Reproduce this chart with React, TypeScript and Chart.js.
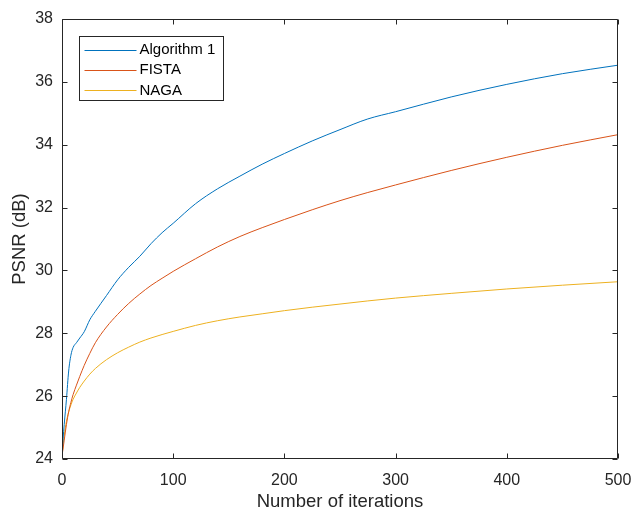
import React, { useEffect, useRef } from "react";
import { Chart, registerables } from "chart.js";

Chart.register(...registerables);

const iterations = [0, 2, 4, 6, 8, 10, 13, 16, 20, 25, 30, 40, 50, 60, 70, 80, 90, 100, 120, 140, 160, 180, 200, 225, 250, 275, 300, 350, 400, 450, 500];

const algorithm1 = [24.2, 25.1, 25.9, 26.8, 27.3, 27.55, 27.7, 27.85, 28.05, 28.43, 28.7, 29.2, 29.7, 30.1, 30.45, 30.85, 31.2, 31.5, 32.12, 32.6, 33.0, 33.38, 33.72, 34.12, 34.48, 34.82, 35.05, 35.52, 35.92, 36.26, 36.53];
const fista = [24.1, 24.6, 25.1, 25.5, 25.8, 26.05, 26.35, 26.63, 26.98, 27.36, 27.7, 28.2, 28.6, 28.95, 29.25, 29.52, 29.75, 29.97, 30.37, 30.75, 31.08, 31.36, 31.62, 31.93, 32.22, 32.48, 32.72, 33.18, 33.6, 33.98, 34.32];
const naga = [24.1, 24.75, 25.2, 25.5, 25.72, 25.9, 26.1, 26.28, 26.48, 26.7, 26.88, 27.16, 27.38, 27.56, 27.72, 27.85, 27.96, 28.06, 28.25, 28.4, 28.52, 28.62, 28.72, 28.83, 28.93, 29.03, 29.12, 29.27, 29.41, 29.53, 29.64];

const seriesNames = ["Algorithm 1", "FISTA", "NAGA"];
const seriesColors = ["#0072BD", "#D95319", "#EDB120"];

const xTicks = [0, 100, 200, 300, 400, 500];
const yTicks = [24, 26, 28, 30, 32, 34, 36, 38];

const FONT = "'Liberation Sans', Arial, Helvetica, sans-serif";
const AXIS_COLOR = "#262626";

const framePlugin = {
  id: "matlabFrame",
  afterDatasetsDraw(chart: any) {
    const { ctx, chartArea } = chart;
    const { left, right, top, bottom } = chartArea;
    const xs = chart.scales.x;
    const ys = chart.scales.y;
    const L = Math.round(left) + 0.5;
    const R = Math.round(right) - 0.5;
    const T = Math.round(top) + 0.5;
    const B = Math.round(bottom) - 0.5;
    ctx.save();
    ctx.strokeStyle = AXIS_COLOR;
    ctx.lineWidth = 1;
    ctx.beginPath();
    ctx.rect(L, T, R - L, B - T);
    ctx.stroke();
    const tl = 5;
    ctx.beginPath();
    xTicks.forEach((v) => {
      const px = Math.round(xs.getPixelForValue(v)) + 0.5;
      ctx.moveTo(px, B);
      ctx.lineTo(px, B - tl);
      ctx.moveTo(px, T);
      ctx.lineTo(px, T + tl);
    });
    yTicks.forEach((v) => {
      const py = Math.round(ys.getPixelForValue(v)) + 0.5;
      ctx.moveTo(L, py);
      ctx.lineTo(L + tl, py);
      ctx.moveTo(R, py);
      ctx.lineTo(R - tl, py);
    });
    ctx.stroke();
    ctx.restore();
  },
  afterDraw(chart: any) {
    const { ctx, chartArea } = chart;
    const bx = Math.round(chartArea.left + 17) + 0.5;
    const by = Math.round(chartArea.top + 17) + 0.5;
    const bw = 144;
    const bh = 64;
    ctx.save();
    ctx.fillStyle = "#ffffff";
    ctx.fillRect(bx, by, bw, bh);
    ctx.strokeStyle = AXIS_COLOR;
    ctx.lineWidth = 1;
    ctx.strokeRect(bx, by, bw, bh);
    ctx.font = `15px ${FONT}`;
    ctx.textBaseline = "middle";
    ctx.textAlign = "left";
    chart.data.datasets.forEach((ds: any, i: number) => {
      const cy = by + 13 + i * 20.3;
      ctx.strokeStyle = ds.borderColor;
      ctx.lineWidth = 1;
      ctx.beginPath();
      ctx.moveTo(bx + 5, Math.round(cy) + 0.5);
      ctx.lineTo(bx + 57, Math.round(cy) + 0.5);
      ctx.stroke();
      ctx.fillStyle = "#000000";
      ctx.fillText(ds.label, bx + 60, cy + 0.5);
    });
    ctx.restore();
  },
};

export default function App() {
  const ref = useRef<HTMLCanvasElement | null>(null);
  useEffect(() => {
    if (!ref.current) return;
    const seriesValues = [algorithm1, fista, naga];
    const chart = new Chart(ref.current, {
      type: "line",
      data: {
        datasets: seriesValues.map((vals, i) => ({
          label: seriesNames[i],
          data: iterations.map((it, j) => ({ x: it, y: vals[j] })),
          borderColor: seriesColors[i],
          backgroundColor: seriesColors[i],
          borderWidth: 1,
          pointRadius: 0,
          cubicInterpolationMode: "monotone" as const,
          fill: false,
        })),
      },
      options: {
        animation: false,
        responsive: false,
        maintainAspectRatio: false,
        events: [],
        layout: { padding: { top: 19, right: 17, left: 0, bottom: 0 } },
        plugins: {
          legend: { display: false },
          tooltip: { enabled: false },
        },
        scales: {
          x: {
            type: "linear",
            min: 0,
            max: 500,
            afterBuildTicks: (s: any) => {
              s.ticks = xTicks.map((v) => ({ value: v }));
            },
            afterFit: (s: any) => {
              s.height = 54;
              s.paddingLeft = 0;
              s.paddingRight = 0;
            },
            grid: { display: false, drawTicks: false },
            border: { display: false },
            ticks: {
              color: AXIS_COLOR,
              font: { family: FONT, size: 16 },
              padding: 12,
              maxRotation: 0,
            },
            title: {
              display: true,
              text: "Number of iterations",
              color: AXIS_COLOR,
              font: { family: FONT, size: 18.5 },
              padding: { top: 0, bottom: 0 },
            },
          },
          y: {
            type: "linear",
            min: 24,
            max: 38,
            afterBuildTicks: (s: any) => {
              s.ticks = yTicks.map((v) => ({ value: v }));
            },
            afterFit: (s: any) => {
              s.width = 62;
              s.paddingTop = 0;
              s.paddingBottom = 0;
            },
            grid: { display: false, drawTicks: false },
            border: { display: false },
            ticks: {
              color: AXIS_COLOR,
              font: { family: FONT, size: 16 },
              padding: 9,
            },
            title: {
              display: true,
              text: "PSNR (dB)",
              color: AXIS_COLOR,
              font: { family: FONT, size: 18.5 },
              padding: { top: 9, bottom: 0 },
            },
          },
        },
      },
      plugins: [framePlugin],
    });
    return () => chart.destroy();
  }, []);
  return (
    <div style={{ position: "fixed", left: 0, top: 0, width: 635, height: 513, background: "#fff" }}>
      <canvas ref={ref} width={635} height={513} style={{ display: "block" }} />
    </div>
  );
}
